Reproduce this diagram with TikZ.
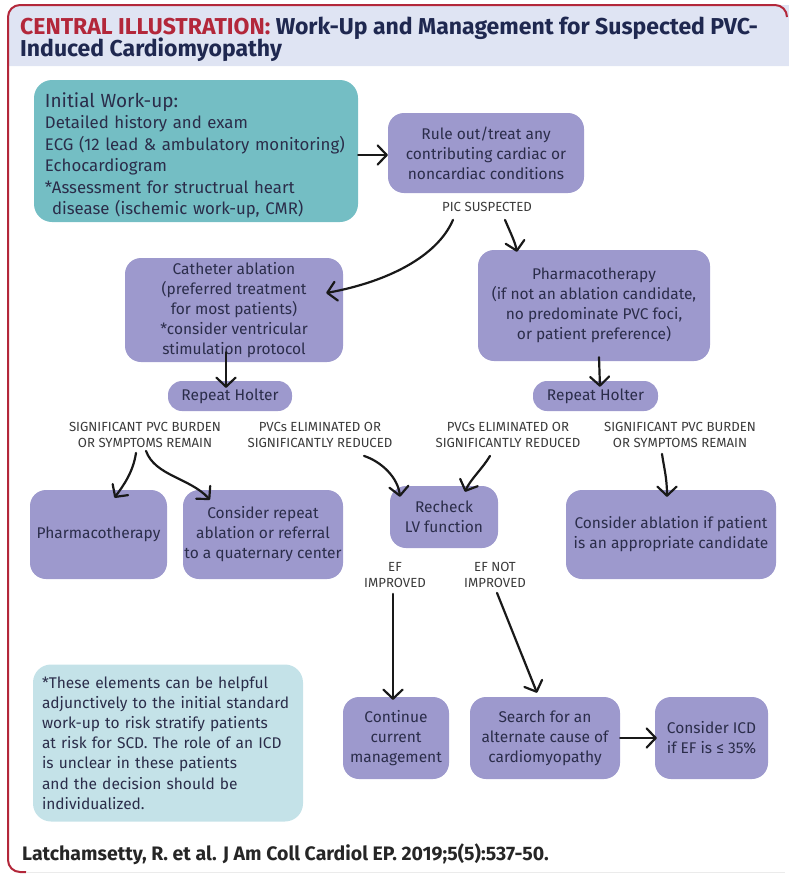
\documentclass[tikz,border=0pt]{standalone}
\usepackage{fontspec}
\setmainfont{Fira Sans}
\usetikzlibrary{arrows.meta,calc}
\definecolor{lav}{HTML}{9D99CD}
\definecolor{tealbox}{HTML}{74BEC4}
\definecolor{palebox}{HTML}{C4E2E8}
\definecolor{hdr}{HTML}{DFE4F3}
\definecolor{redt}{HTML}{B3273A}
\definecolor{navy}{HTML}{1F2850}
\definecolor{boxtxt}{HTML}{2B2D4A}
\definecolor{lbltxt}{HTML}{3A3A3A}
\begin{document}
\begin{tikzpicture}[x=1pt,y=-1pt,
  flowbox/.style={rounded corners=16pt, fill=lav, text=boxtxt, align=center, inner sep=0pt,
    font=\fontsize{15.5}{20}\selectfont},
  lbl/.style={font=\fontsize{13.2}{16}\selectfont, text=lbltxt, align=center, inner sep=0pt},
  arr/.style={-{Straight Barb[length=9pt,width=19pt,line width=2.2pt,round]}, line width=2.2pt, line cap=round, black!90}
]
\useasboundingbox (0,0) rectangle (789,876);
% frame and header
\fill[hdr] (8,66) [rounded corners=14pt] -- (8,5) -- (787,5) [sharp corners] -- (789,5) -- (789,66) -- cycle;
\draw[redt, line width=2pt, rounded corners=12pt] (787,17) -- (787,5) -- (8,5) -- (8,872) -- (26,872);
\draw[black!8, line width=1pt] (26,872) -- (785,872);
\node[anchor=base west, inner sep=0pt, font=\fontsize{23}{25}\selectfont\bfseries] (title1) at (20,34)
  {\textcolor{redt}{CENTRAL ILLUSTRATION:} \textcolor{navy}{Work-Up and Management for Suspected PVC-}};
\node[anchor=base west, inner sep=0pt, font=\fontsize{23}{25}\selectfont\bfseries, text=navy] (title2) at (20,56)
  {Induced Cardiomyopathy};

% boxes
\node[flowbox, fill=tealbox, minimum width=324pt, minimum height=142pt, text width=302pt, align=left,
  font=\fontsize{16.8}{21.5}\selectfont, rounded corners=18pt] (init) at (196,151)
  {{\fontsize{19}{22}\selectfont\rule{0pt}{24pt}Initial Work-up:}\\
   Detailed history and exam\\
   ECG (12 lead \& ambulatory monitoring)\\
   Echocardiogram\\ {*}Assessment for structrual heart\\
   \hspace*{7pt}disease (ischemic work-up, CMR)};
\node[flowbox, minimum width=196pt, minimum height=80pt] (rule) at (486,153)
  {Rule out/treat any\\contributing cardiac or\\noncardiac conditions};
\node[lbl] (pic) at (487,207) {PIC SUSPECTED};
\node[flowbox, minimum width=218pt, minimum height=104pt] (cath) at (234,310)
  {Catheter ablation\\(preferred treatment\\for most patients)\\ {*}consider ventricular\\stimulation protocol};
\node[flowbox, minimum width=232pt, minimum height=111pt] (pharmR) at (594,305.5)
  {Pharmacotherapy\\(if not an ablation candidate,\\no predominate PVC foci,\\or patient preference)};
\node[flowbox, minimum width=124pt, minimum height=30pt, rounded corners=14pt] (holL) at (230,396) {Repeat Holter};
\node[flowbox, minimum width=125pt, minimum height=30pt, rounded corners=14pt] (holR) at (595.5,396) {Repeat Holter};

\node[lbl] (sigL) at (145,435) {SIGNIFICANT PVC BURDEN\\OR SYMPTOMS REMAIN};
\node[lbl] (elimL) at (320,435) {PVCs ELIMINATED OR\\SIGNIFICANTLY REDUCED};
\node[lbl] (elimR) at (508,435) {PVCs ELIMINATED OR\\SIGNIFICANTLY REDUCED};
\node[lbl] (sigR) at (680,435) {SIGNIFICANT PVC BURDEN\\OR SYMPTOMS REMAIN};

\node[flowbox, minimum width=137pt, minimum height=89pt] (pharmL) at (98.5,534.5) {Pharmacotherapy};
\node[flowbox, minimum width=160pt, minimum height=89pt] (rep) at (263,534.5)
  {Consider repeat\\ablation or referral\\to a quaternary center};
\node[flowbox, minimum width=108pt, minimum height=62pt] (lv) at (444,517) {Recheck\\LV function};
\node[flowbox, minimum width=210pt, minimum height=89pt] (abl) at (671,534.5)
  {Consider ablation if patient\\is an appropriate candidate};

\node[lbl] (efi) at (395,575) {EF\\IMPROVED};
\node[lbl] (efn) at (495,575) {EF NOT\\IMPROVED};

\node[flowbox, minimum width=106pt, minimum height=82pt] (cont) at (396,738)
  {Continue\\current\\management};
\node[flowbox, minimum width=150pt, minimum height=82pt] (search) at (545,738)
  {Search for an\\alternate cause of\\cardiomyopathy};
\node[flowbox, minimum width=113pt, minimum height=82pt] (icd) at (711.5,738)
  {Consider ICD\\if EF is ≤ 35\%};

\node[flowbox, fill=palebox, minimum width=270pt, minimum height=157pt, text width=252pt, align=left,
  font=\fontsize{15.5}{20.2}\selectfont, rounded corners=18pt] (note) at (168,743)
  {{*}These elements can be helpful\\adjunctively to the initial standard\\work-up to risk stratify patients\\at risk for SCD. The role of an ICD\\is unclear in these patients\\and the decision should be\\individualized.};

\node[anchor=base west, inner sep=0pt, font=\fontsize{19.5}{22}\selectfont\bfseries, text=black!85] (cite) at (22,860)
  {Latchamsetty, R. et al. J Am Coll Cardiol EP. 2019;5(5):537-50.};

% connectors
\draw[arr] (init.east |- 0,155) -- (rule.west |- 0,155);
\draw[arr] ($(pic.south)+(-34,8)$) .. controls ($(pic.south)+(-50,45)$) and ($(pic.south)+(-100,70)$) .. ($(cath.east)+(-17,-17)$);
\draw[arr] ($(pic.south)+(18,8)$) .. controls ($(pic.south)+(24,22)$) and ($(pic.south)+(28,30)$) .. ($(pharmR.north)+(-77,2)$);
\draw[arr] ($(cath.south)+(-8,-10)$) -- ($(holL.north)+(-4,7)$);
\draw[arr] ($(pharmR.south)+(5,-4)$) -- ($(holR.north)+(4.5,6)$);
\draw[arr] ($(sigL.south)+(-9,5)$) .. controls ($(sigL.south)+(-12,25)$) and ($(sigL.south)+(-22,38)$) .. ($(pharmL.north)+(16,8)$);
\draw[arr] ($(sigL.south)+(1,3)$) .. controls ($(sigL.south)+(10,28)$) and ($(sigL.south)+(45,30)$) .. ($(rep.north)+(-53,10)$);
\draw[arr] ($(elimL.south)+(44,8)$) .. controls ($(elimL.south)+(62,14)$) and ($(elimL.south)+(78,30)$) .. ($(lv.north)+(-44,11)$);
\draw[arr] ($(elimR.south)+(-18,8)$) .. controls ($(elimR.south)+(-25,20)$) and ($(elimR.south)+(-38,32)$) .. ($(lv.north)+(21,6)$);
\draw[arr] ($(sigR.south)+(-18,6)$) .. controls ($(sigR.south)+(-16,20)$) and ($(sigR.south)+(-13,30)$) .. ($(abl.north)+(-4,7)$);
\draw[arr] ($(efi.south)+(-2,6)$) -- ($(cont.north)+(-3,3)$);
\draw[arr] ($(efn.south)+(2,5)$) -- ($(search.north)+(-8,-4)$);
\draw[arr] (search.east) -- ($(icd.west)+(2,0)$);
\end{tikzpicture}
\end{document}
